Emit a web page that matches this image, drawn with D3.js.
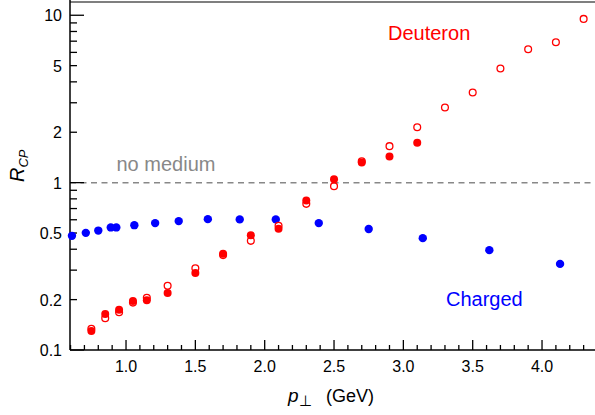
<!DOCTYPE html>
<html>
<head>
<meta charset="utf-8">
<script src="https://cdn.jsdelivr.net/npm/d3@7"></script>
<style>
  body { margin: 0; background: #fff; }
  text { font-family: "Liberation Sans", Arial, sans-serif; }
</style>
</head>
<body>
<div id="chart"></div>
<script>
const chargedPt = [0.61, 0.71, 0.80, 0.89, 0.93, 1.06, 1.21, 1.38, 1.59, 1.82, 2.08, 2.39, 2.75, 3.14, 3.62, 4.13];
const chargedRcp = [0.481, 0.501, 0.517, 0.540, 0.540, 0.557, 0.573, 0.589, 0.605, 0.603, 0.603, 0.573, 0.528, 0.466, 0.395, 0.327];

const deutFilledPt = [0.75, 0.85, 0.95, 1.05, 1.15, 1.3, 1.5, 1.7, 1.9, 2.1, 2.3, 2.5, 2.7, 2.9, 3.1];
const deutFilledRcp = [0.130, 0.164, 0.174, 0.196, 0.198, 0.219, 0.288, 0.376, 0.484, 0.530, 0.783, 1.049, 1.32, 1.433, 1.729];

const deutOpenPt = [0.75, 0.85, 0.95, 1.05, 1.15, 1.3, 1.5, 1.7, 1.9, 2.1, 2.3, 2.5, 2.7, 2.9, 3.1, 3.3, 3.5, 3.7, 3.9, 4.1, 4.3];
const deutOpenRcp = [0.134, 0.155, 0.168, 0.192, 0.205, 0.242, 0.3075, 0.369, 0.449, 0.552, 0.747, 0.953, 1.34, 1.652, 2.14, 2.81, 3.455, 4.81, 6.27, 6.90, 9.51];

const xMajor = [1.0, 1.5, 2.0, 2.5, 3.0, 3.5, 4.0];
const yLabels = [0.1, 0.2, 0.5, 1, 2, 5, 10];
const yLong = [0.1, 1, 10];

const W = 595, H = 415;
const padLeft = 70, padBottom = 350, padTop = 2;

const svg = d3.select("#chart")
  .append("svg")
  .attr("width", W)
  .attr("height", H);

const x = d3.scaleLinear()
  .domain([0.596, 4.382])
  .range([padLeft, W]);

const y = d3.scaleLog()
  .domain([0.1, 12])
  .range([padBottom, padTop]);

// minor ticks
const xMinor = d3.range(6, 44).map(d => d / 10).filter(d => !xMajor.some(m => Math.abs(m - d) < 1e-9));
const yMinor = [0.3, 0.4, 0.6, 0.7, 0.8, 0.9, 3, 4, 6, 7, 8, 9, 0.2, 0.5, 2, 5];

// frame top
svg.append("line")
  .attr("x1", padLeft).attr("x2", W)
  .attr("y1", padTop).attr("y2", padTop)
  .attr("stroke", "#555").attr("stroke-width", 1.5);

// reference line
svg.append("line")
  .attr("x1", padLeft).attr("x2", W)
  .attr("y1", y(1)).attr("y2", y(1))
  .attr("stroke", "#888").attr("stroke-width", 1.5)
  .attr("stroke-dasharray", "6,4.5");

const ax = svg.append("g").attr("stroke", "#000").attr("stroke-width", 1.3);

ax.selectAll(".xmaj").data(xMajor).enter().append("line")
  .attr("x1", d => x(d)).attr("x2", d => x(d))
  .attr("y1", padBottom).attr("y2", padBottom - 10);

ax.selectAll(".xmin").data(xMinor).enter().append("line")
  .attr("x1", d => x(d)).attr("x2", d => x(d))
  .attr("y1", padBottom).attr("y2", padBottom - 5);

ax.selectAll(".ylong").data(yLong).enter().append("line")
  .attr("x1", padLeft).attr("x2", padLeft + 14)
  .attr("y1", d => y(d)).attr("y2", d => y(d));

ax.selectAll(".ymin").data(yMinor).enter().append("line")
  .attr("x1", padLeft).attr("x2", padLeft + 7)
  .attr("y1", d => y(d)).attr("y2", d => y(d));

ax.append("line")
  .attr("x1", padLeft).attr("x2", W)
  .attr("y1", padBottom).attr("y2", padBottom)
  .attr("stroke-width", 1.5);

ax.append("line")
  .attr("x1", padLeft).attr("x2", padLeft)
  .attr("y1", 0).attr("y2", padBottom)
  .attr("stroke-width", 1.5);

// tick labels
svg.selectAll(".xl").data(xMajor).enter().append("text")
  .attr("x", d => x(d))
  .attr("y", 372)
  .attr("text-anchor", "middle")
  .attr("font-size", 16)
  .text(d => d.toFixed(1));

svg.selectAll(".yl").data(yLabels).enter().append("text")
  .attr("x", 62)
  .attr("y", d => y(d) + 6)
  .attr("text-anchor", "end")
  .attr("font-size", 16)
  .text(d => d);

// axis titles
const xt = svg.append("text")
  .attr("x", 288)
  .attr("y", 402)
  .attr("font-size", 19);
xt.append("tspan").attr("font-style", "italic").text("p");
xt.append("tspan").attr("font-size", 15).attr("dy", 4).attr("dx", 0).text("⊥");
xt.append("tspan").attr("dy", -4).attr("x", 326).attr("font-size", 18).text("(GeV)");

const yt = svg.append("text")
  .attr("transform", "translate(24,182) rotate(-90)")
  .attr("font-size", 20)
  .attr("font-style", "italic");
yt.append("tspan").text("R");
yt.append("tspan").attr("font-size", 13).attr("dy", 4).text("CP");

// annotations
svg.append("text").attr("x", 116.5).attr("y", 171)
  .attr("font-size", 20).attr("fill", "#888").text("no medium");
svg.append("text").attr("x", 388).attr("y", 40)
  .attr("font-size", 20).attr("fill", "#ff0000").text("Deuteron");
svg.append("text").attr("x", 446).attr("y", 306)
  .attr("font-size", 20).attr("fill", "#0000ff").text("Charged");

// points
svg.selectAll(".ch").data(chargedPt).enter().append("circle")
  .attr("cx", d => x(d))
  .attr("cy", (d, i) => y(chargedRcp[i]))
  .attr("r", 4.2)
  .attr("fill", "#0000ff");

svg.selectAll(".df").data(deutFilledPt).enter().append("circle")
  .attr("cx", d => x(d))
  .attr("cy", (d, i) => y(deutFilledRcp[i]))
  .attr("r", 4)
  .attr("fill", "#ff0000");

svg.selectAll(".do").data(deutOpenPt).enter().append("circle")
  .attr("cx", d => x(d))
  .attr("cy", (d, i) => y(deutOpenRcp[i]))
  .attr("r", 3.4)
  .attr("fill", "none")
  .attr("stroke", "#ff0000")
  .attr("stroke-width", 1.3);
</script>
</body>
</html>
